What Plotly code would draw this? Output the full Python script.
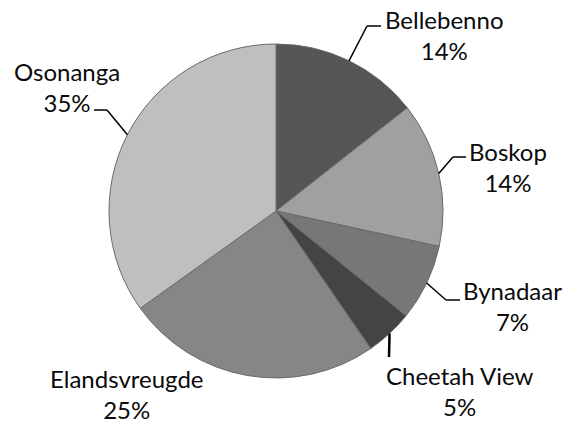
import math
import plotly.graph_objects as go

# Data
farms = ["Bellebenno", "Boskop", "Bynadaar", "Cheetah View", "Elandsvreugde", "Osonanga"]
shares = [14.4, 14.0, 7.4, 4.6, 24.7, 34.9]

# Styles
colors = ["#555555", "#a0a0a0", "#777777", "#444444", "#868686", "#bfbfbf"]
W, H = 566, 423
CX, CY, R = 276, 211, 167  # pie placement (pixels)

# label layout (pixels): text centre x, centre y, leader elbow, leader end, width
label_pos = [
    dict(x=444, y=35, elbow=(367, 26), end=(381, 26), w=1.5),
    dict(x=508, y=167, elbow=(453, 157), end=(466, 157), w=1.5),
    dict(x=512, y=306, elbow=(446, 300), end=(460, 300), w=1.5),
    dict(x=459, y=391, elbow=(389, 357), end=None, w=2.5),
    dict(x=127, y=394, elbow=None, end=None, w=1.5),
    dict(x=67, y=87, elbow=(107, 110), end=(94, 110), w=1.5),
]

def px(x):
    return x / W

def py(y):
    return 1 - y / H

fig = go.Figure(go.Pie(
    labels=farms,
    values=shares,
    sort=False,
    direction="clockwise",
    rotation=0,
    textinfo="none",
    hoverinfo="label+percent",
    marker=dict(colors=colors, line=dict(color="#6a6a6a", width=1)),
    domain=dict(x=[px(CX - R), px(CX + R)], y=[py(CY + R), py(CY - R)]),
    showlegend=False,
))

total = sum(shares)
cum = 0
annotations = []
shapes = []
for name, v, lp in zip(farms, shares, label_pos):
    mid = (cum + v / 2) / total * 2 * math.pi
    cum += v
    sx = CX + R * math.sin(mid)
    sy = CY - R * math.cos(mid)
    pct = round(v / total * 100)
    annotations.append(dict(
        x=px(lp["x"]), y=py(lp["y"]), xref="paper", yref="paper",
        text=f"{name}<br>{pct}%", showarrow=False, xanchor="center", yanchor="middle",
        font=dict(family="Lato", size=24, color="#0a0a0a"), align="center",
    ))
    if lp["elbow"] is not None:
        ex, ey = lp["elbow"]
        shapes.append(dict(type="line", xref="paper", yref="paper",
                           x0=px(sx), y0=py(sy), x1=px(ex), y1=py(ey),
                           line=dict(color="black", width=lp["w"])))
        if lp["end"] is not None:
            fx, fy = lp["end"]
            shapes.append(dict(type="line", xref="paper", yref="paper",
                               x0=px(ex), y0=py(ey), x1=px(fx), y1=py(fy),
                               line=dict(color="black", width=lp["w"])))

fig.update_layout(
    width=W, height=H,
    margin=dict(l=0, r=0, t=0, b=0),
    paper_bgcolor="white", plot_bgcolor="white",
    annotations=annotations, shapes=shapes,
)
fig.write_html("out.html", config={"displayModeBar": False},
               post_script="document.body.style.margin='0px';")
